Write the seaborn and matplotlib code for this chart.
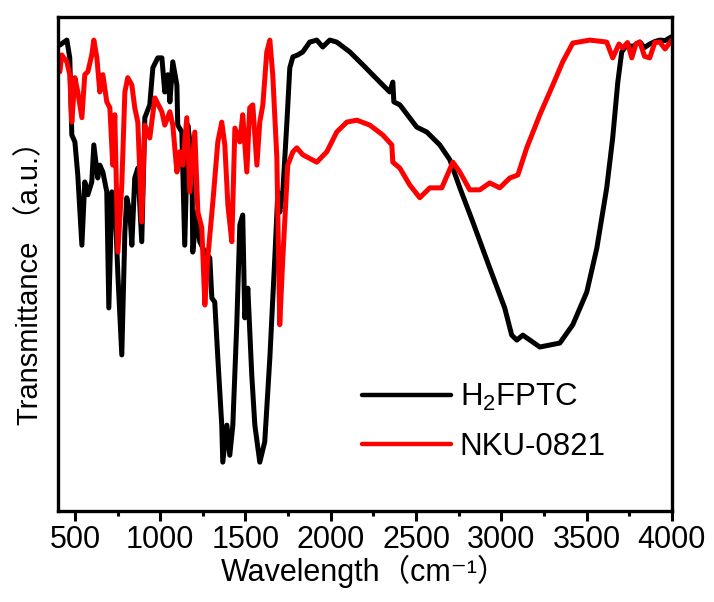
import matplotlib
matplotlib.use("Agg")
import matplotlib.pyplot as plt
import pandas as pd
import seaborn as sns
from matplotlib.ticker import MultipleLocator, NullLocator

# H2FPTC spectrum (wavenumber, transmittance in arbitrary units)
h2fptc_wn = [412, 453, 470, 482, 500, 517, 541, 558, 576, 599, 611, 634, 646, 664, 687,
             699, 717, 734, 752, 775, 793, 804, 822, 834, 851, 869, 892, 910, 939, 957,
             986, 1010, 1027, 1045, 1057, 1074, 1098, 1103, 1127, 1144, 1162, 1186, 1191,
             1215, 1232, 1262, 1291, 1303, 1320, 1338, 1361, 1367, 1391, 1408, 1426, 1449,
             1467, 1484, 1496, 1514, 1537, 1555, 1584, 1613, 1643, 1672, 1690, 1701, 1719,
             1742, 1760, 1778, 1807, 1836, 1877, 1918, 1953, 1994, 2035, 2112, 2188, 2288,
             2346, 2364, 2370, 2405, 2504, 2563, 2639, 2698, 2757, 2833, 2932, 3020, 3061,
             3091, 3126, 3226, 3343, 3419, 3501, 3560, 3618, 3653, 3683, 3706, 3735, 3770,
             3812, 3840, 3870, 3900, 3929, 3960, 4000]
h2fptc_t = [94.3, 95.3, 91.7, 76.1, 74.7, 68.0, 53.8, 66.6, 64.0, 66.6, 74.1, 67.4, 70.0, 68.6, 64.6,
            41.1, 64.6, 63.4, 47.8, 31.6, 56.5, 63.4, 60.5, 53.8, 67.4, 69.4, 54.5, 79.6, 82.2, 89.7,
            91.7, 91.7, 84.8, 88.3, 82.8, 90.9, 86.2, 78.1, 76.7, 53.8, 78.1, 71.5, 52.4,
            60.5, 54.5, 52.4, 51.2, 43.1, 42.3, 31.0, 17.4, 9.9, 17.4, 11.3, 17.4, 37.7,
            57.9, 59.9, 39.1, 45.1, 27.5, 17.4, 9.9, 14.0, 31.0, 51.2, 64.6, 60.5, 64.6,
            78.1, 89.7, 91.9, 92.3, 92.9, 94.9, 95.3, 93.9, 95.3, 94.9, 92.9, 90.3, 86.8,
            84.8, 86.8, 82.8, 82.2, 77.7, 76.7, 74.1, 71.1, 65.4, 58.5, 49.2, 41.1, 35.6,
            34.6, 35.6, 33.2, 34.0, 37.7, 44.3, 53.2, 65.4, 75.5, 86.8, 92.9, 94.3, 94.0,
            94.9, 93.8, 94.5, 95.0, 95.3, 95.2, 96.0]

# NKU-0821 spectrum
nku_wn = [412, 423, 453, 470, 482, 500, 517, 541, 558, 576, 599, 611, 629, 646, 664,
          687, 705, 722, 734, 752, 775, 793, 810, 834, 851, 869, 892, 910, 939, 969,
          1010, 1027, 1057, 1074, 1098, 1115, 1133, 1156, 1174, 1203, 1221, 1244, 1262,
          1279, 1309, 1338, 1361, 1379, 1397, 1420, 1438, 1467, 1484, 1508, 1525, 1543,
          1567, 1584, 1602, 1625, 1643, 1660, 1684, 1701, 1719, 1748, 1778, 1801, 1836,
          1918, 1977, 2035, 2094, 2153, 2229, 2305, 2358, 2364, 2405, 2463, 2522, 2581,
          2651, 2716, 2757, 2815, 2874, 2932, 2991, 3050, 3097, 3149, 3226, 3302, 3360,
          3419, 3519, 3618, 3653, 3690, 3712, 3740, 3765, 3790, 3812, 3840, 3870, 3900,
          3929, 3960, 4000]
nku_t = [88.9, 92.3, 90.9, 88.3, 78.7, 87.7, 84.8, 79.6, 88.3, 88.9, 92.3, 95.3, 91.7, 84.8, 88.3,
         82.8, 81.6, 70.0, 80.2, 52.4, 66.0, 84.8, 87.7, 86.2, 81.6, 78.7, 58.5, 78.1, 75.5, 83.6,
         80.8, 78.1, 80.8, 78.1, 68.6, 72.7, 70.0, 79.6, 64.6, 76.7, 60.5, 57.3, 41.7,
         51.2, 62.6, 74.7, 78.7, 74.1, 61.9, 54.5, 77.5, 74.7, 80.2, 68.6, 81.6, 82.2,
         70.0, 78.7, 82.2, 92.9, 95.3, 88.3, 71.5, 37.7, 51.2, 70.0, 72.7, 73.5, 72.1,
         70.6, 72.7, 76.7, 78.7, 79.1, 78.1, 76.1, 74.1, 70.6, 69.4, 66.0, 63.4, 65.4,
         65.4, 70.6, 68.6, 65.0, 65.0, 66.4, 65.4, 67.4, 68.0, 73.5, 80.2, 86.2, 90.9,
         94.7, 95.3, 94.9, 91.7, 94.5, 93.7, 94.8, 91.7, 94.6, 94.9, 92.0, 91.7, 94.8,
         94.9, 93.5, 95.3]

series_names = ["H2FPTC", "NKU-0821"]
legend_labels = ["H$_2$FPTC", "NKU-0821"]
colors = ["black", "red"]


def main() -> None:
    sns.set_theme(style="white")
    plt.rcParams["font.family"] = ["Liberation Sans", "Noto Sans CJK SC", "DejaVu Sans"]
    plt.rcParams["mathtext.fontset"] = "custom"
    plt.rcParams["mathtext.rm"] = "Liberation Sans"
    plt.rcParams["mathtext.it"] = "Liberation Sans:italic"
    for key in ["text.color", "axes.labelcolor", "xtick.color", "ytick.color", "axes.edgecolor"]:
        plt.rcParams[key] = "black"

    df = pd.concat([
        pd.DataFrame({"wn": h2fptc_wn, "t": h2fptc_t, "sample": series_names[0]}),
        pd.DataFrame({"wn": nku_wn, "t": nku_t, "sample": series_names[1]}),
    ])

    fig = plt.figure(figsize=(7.14, 6.02), dpi=100)
    ax = fig.add_axes([0.081, 0.151, 0.86, 0.821])
    sns.lineplot(data=df, x="wn", y="t", hue="sample", hue_order=series_names,
                 palette=dict(zip(series_names, colors)), linewidth=3.6,
                 sort=False, estimator=None, ax=ax, legend=False)

    ax.set_xlim(400, 4000)
    ax.set_ylim(0, 100)
    ax.xaxis.set_major_locator(MultipleLocator(500))
    ax.xaxis.set_minor_locator(MultipleLocator(250))
    ax.yaxis.set_major_locator(NullLocator())
    ax.tick_params(axis="x", which="major", direction="out", length=7, width=2.2,
                   labelsize=22, pad=3, bottom=True)
    ax.tick_params(axis="x", which="minor", direction="out", length=3.5, width=2.2, bottom=True)
    for sp in ax.spines.values():
        sp.set_linewidth(2.4)

    ax.set_xlabel("Wavelength（cm⁻¹）", fontsize=22, labelpad=0)
    ax.set_ylabel("Transmittance （a.u.）", fontsize=21)
    ax.yaxis.set_label_coords(-0.022, 0.475)

    handles = [plt.Line2D([], [], color=c, linewidth=3.2) for c in colors]
    ax.legend(handles, legend_labels, loc="upper left", bbox_to_anchor=(0.495, 0.262),
              frameon=False, fontsize=22.5, handlelength=2.85, handletextpad=0.28,
              labelspacing=0.62, borderpad=0, borderaxespad=0)

    fig.savefig("out.png", dpi=100)
    plt.close(fig)


if __name__ == "__main__":
    main()
